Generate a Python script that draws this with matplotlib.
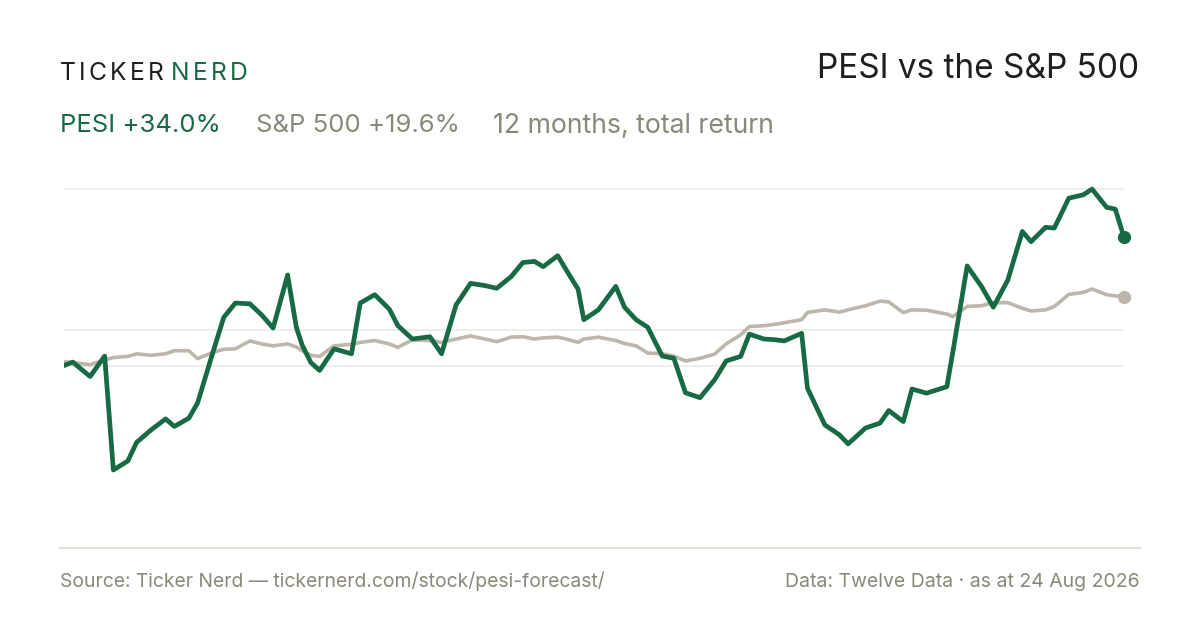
import matplotlib
matplotlib.use("Agg")
import matplotlib.pyplot as plt
from matplotlib.lines import Line2D

# day offset within the 12 month window
days = [0, 3, 9, 14, 17, 22, 25, 30, 35, 38, 43, 46, 51, 55, 59, 64, 68, 72, 77, 80,
        82, 85, 88, 93, 99, 102, 107, 112, 115, 120, 126, 130, 135, 140, 145, 149, 154, 158, 162, 165,
        170, 174, 177, 179, 184, 190, 193, 197, 201, 206, 210, 214, 219, 224, 228, 233, 236, 241, 245, 248,
        254, 256, 262, 267, 270, 276, 281, 284, 289, 292, 297, 304, 306, 311, 316, 320, 325, 330, 333, 338,
        341, 346, 351, 354, 359, 362, 365]

# cumulative return, %
pesi = [0.1, 1.0, -2.8, 2.6, -27.5, -25.1, -20.2, -16.9, -14.0, -16.0, -13.8, -9.8, 2.9, 12.8, 16.6, 16.4, 13.5, 10.0, 24.0, 10.2,
        5.5, 0.9, -1.2, 4.5, 3.2, 16.6, 18.8, 15.0, 10.6, 7.1, 7.7, 3.2, 16.1, 21.8, 21.2, 20.5, 23.6, 27.3, 27.6, 26.2,
        29.1, 24.0, 20.3, 12.2, 14.8, 21.0, 15.5, 12.2, 10.2, 2.6, 2.0, -7.1, -8.4, -3.7, 1.3, 2.5, 8.4, 7.1, 6.9, 6.6,
        8.6, -5.9, -15.6, -18.2, -20.6, -16.4, -15.1, -11.8, -14.7, -6.1, -7.2, -5.5, 3.4, 26.4, 20.9, 15.5, 22.7, 35.5, 32.8, 36.6,
        36.4, 44.3, 45.2, 46.7, 41.9, 41.4, 34.0]

spx = [1.1, 0.9, 0.3, 1.6, 2.2, 2.5, 3.2, 2.8, 3.2, 4.0, 4.0, 1.9, 3.5, 4.4, 4.5, 6.6, 5.8, 5.3, 5.8, 5.0,
       4.0, 2.8, 2.5, 5.3, 5.7, 6.2, 6.7, 5.8, 4.9, 6.9, 6.7, 6.2, 7.1, 7.9, 7.1, 6.4, 7.6, 7.7, 7.1, 7.4,
       7.6, 6.9, 6.2, 7.1, 7.6, 6.7, 5.9, 5.3, 3.4, 3.2, 2.6, 1.3, 2.0, 3.1, 5.8, 8.2, 10.4, 10.6, 11.0, 11.4,
       12.2, 14.1, 14.8, 14.2, 14.8, 15.9, 17.1, 16.9, 14.1, 14.8, 14.7, 13.7, 13.0, 15.7, 15.9, 16.7, 16.7, 15.2, 14.5, 14.8,
       15.7, 18.9, 19.4, 20.3, 18.8, 18.5, 18.2]

title = "PESI vs the S&P 500"
legend_items = ["PESI +34.0%", "S&P 500 +19.6%", "12 months, total return"]
source_text = "Source: Ticker Nerd \u2014 tickernerd.com/stock/pesi-forecast/"
data_text = "Data: Twelve Data \u00b7 as at 24 Aug 2026"

GREEN = "#176a43"
GREY_LINE = "#bdb6ab"
GREY_TEXT = "#8b8779"
DARK = "#1f1f1f"
GRID = "#ebe8e1"
RULE = "#dedad0"

plt.rcParams["font.family"] = ["Inter", "DejaVu Sans"]

W, H = 1200, 630
fig = plt.figure(figsize=(12, 6.3), dpi=100)
fig.patch.set_facecolor("white")


def fx(px):
    return px / W


def fy(py):
    return 1 - py / H


ax = fig.add_axes([fx(64), fy(548), fx(1124) - fx(64), fy(180) - fy(548)])
ax.set_xlim(0, 365)
ax.set_ylim(-48.1, 49.1)
ax.axis("off")

hi, lo = max(pesi), min(pesi)
for level in [hi, (hi + lo) / 2, 0]:
    ax.axhline(level, color=GRID, lw=1.1, zorder=1)

ax.plot(days, spx, color=GREY_LINE, lw=2.6, zorder=2)
ax.plot(days, pesi, color=GREEN, lw=3.4, zorder=3)
ax.plot(days[-1], spx[-1], "o", color=GREY_LINE, ms=8.5, clip_on=False, zorder=4)
ax.plot(days[-1], pesi[-1], "o", color=GREEN, ms=8.5, clip_on=False, zorder=5)

fig.add_artist(Line2D([fx(60), fx(1140)], [fy(548), fy(548)], color=RULE, lw=1.2))

renderer = fig.canvas.get_renderer()


def tracked(x, y, s, color, size, track):
    for ch in s:
        t = fig.text(fx(x), fy(y), ch, color=color, fontsize=size, va="baseline", ha="left")
        x += t.get_window_extent(renderer).width + track
    return x


x = tracked(60, 79.5, "TICKER", DARK, 17.8, 3.3)
tracked(x + 4, 79.5, "NERD", GREEN, 17.8, 3.3)

fig.text(fx(1139), fy(78), title, color=DARK, fontsize=24, ha="right", va="baseline")

fig.text(fx(60), fy(132.5), legend_items[0], color=GREEN, fontsize=18.5, va="baseline")
fig.text(fx(256), fy(132.5), legend_items[1], color=GREY_TEXT, fontsize=18.5, va="baseline")
fig.text(fx(493), fy(132.5), legend_items[2], color=GREY_TEXT, fontsize=19.2, va="baseline")

fig.text(fx(60), fy(587), source_text, color=GREY_TEXT, fontsize=13.9, va="baseline")
fig.text(fx(1140), fy(587), data_text, color=GREY_TEXT, fontsize=14, ha="right", va="baseline")

fig.savefig("out.png", dpi=100, facecolor="white")
